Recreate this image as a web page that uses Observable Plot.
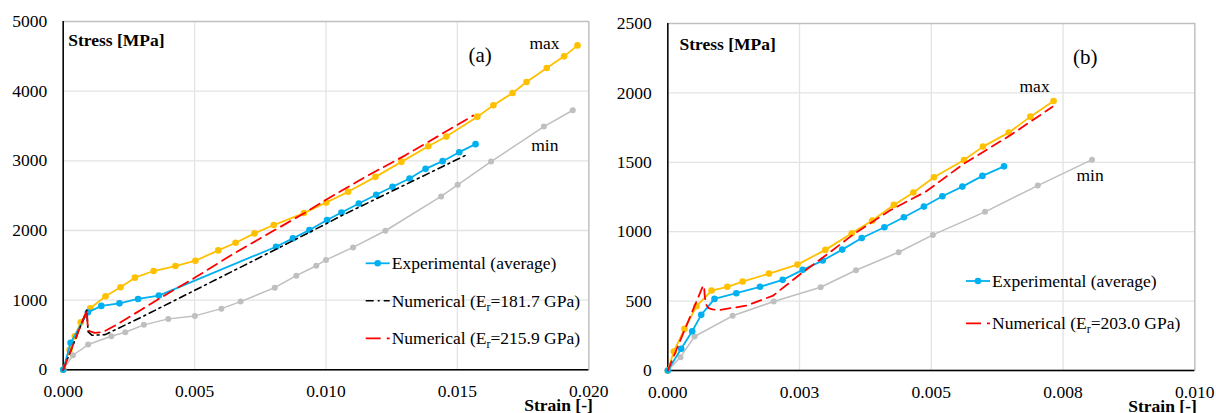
<!DOCTYPE html>
<html>
<head>
<meta charset="utf-8">
<script src="https://cdn.jsdelivr.net/npm/d3@7"></script>
<script src="https://cdn.jsdelivr.net/npm/@observablehq/plot@0.6"></script>
<style>
  body { margin: 0; background: #fff; }
  #wrap { position: relative; width: 1216px; height: 413px; display: flex; }
  #wrap, #wrap svg, #wrap svg text, #wrap svg tspan { font-family: "Liberation Serif", "Tinos", "DejaVu Serif", "Noto Serif", serif !important; }
  .panel { position: relative; width: 608px; height: 413px; }
  .panel svg.overlay { position: absolute; left: 0; top: 0; pointer-events: none; }
</style>
</head>
<body>
<div id="wrap"><div class="panel" id="pa"></div><div class="panel" id="pb"></div></div>
<script>
// ---------- Data: [strain, stress MPa] ----------
// Panel (a)
const maxA = [[0,0],[0.00024,287],[0.00044,482],[0.00067,682],[0.00103,883],[0.00161,1055],[0.00218,1184],[0.00273,1323],[0.00344,1418],[0.00427,1490],[0.00503,1566],[0.0059,1714],[0.00656,1824],[0.00728,1958],[0.00801,2078],[0.00916,2250],[0.01001,2402],[0.01084,2555],[0.01188,2770],[0.01287,2985],[0.01389,3210],[0.01458,3348],[0.01576,3634],[0.01637,3797],[0.0171,3974],[0.01763,4131],[0.0184,4332],[0.01906,4500],[0.01957,4657]];
const expA = [[0,0],[0.00028,387],[0.00094,825],[0.00145,917],[0.00214,954],[0.00285,1017],[0.00364,1065],[0.0081,1767],[0.00874,1886],[0.00937,2006],[0.01004,2150],[0.01059,2258],[0.01125,2387],[0.01191,2512],[0.01253,2627],[0.01318,2746],[0.01379,2885],[0.01444,2995],[0.01507,3124],[0.01569,3239]];
const minA = [[0,0],[0.00037,209],[0.00095,363],[0.00183,482],[0.00236,539],[0.00307,645],[0.004,731],[0.00501,774],[0.00602,878],[0.00675,979],[0.00805,1179],[0.00887,1351],[0.00963,1494],[0.01,1578],[0.01103,1757],[0.01226,1996],[0.01438,2488],[0.01501,2655],[0.01628,2989],[0.01829,3491],[0.01939,3726]];
const num1817A = [[0,0],[0.0009,855],[0.00093,650],[0.00095,545],[0.0011,495],[0.0016,505],[0.003,760],[0.005,1140],[0.0081,1730],[0.01,2095],[0.01055,2205],[0.0154,3095]];
const num2159A = [[0,0],[0.0009,855],[0.00092,700],[0.00094,600],[0.001,555],[0.0012,530],[0.0015,540],[0.002,640],[0.003,870],[0.004,1100],[0.005,1320],[0.0065,1670],[0.008,1995],[0.0092,2255],[0.01,2440],[0.0115,2770],[0.013,3075],[0.0156,3650]];
// Panel (b)
const maxB = [[0,0],[0.000114,137],[0.000317,300],[0.000545,463],[0.00083,576],[0.00113,603],[0.00142,641],[0.00192,698],[0.00246,763],[0.00299,869],[0.00349,989],[0.00388,1080],[0.00429,1193],[0.00466,1282],[0.00505,1392],[0.00562,1517],[0.00598,1613],[0.00647,1714],[0.00688,1829],[0.00732,1942]];
const expB = [[0,0],[0.000254,156],[0.000463,283],[0.000634,401],[0.000886,516],[0.0013,557],[0.00175,603],[0.00218,653],[0.00256,725],[0.00294,792],[0.00331,871],[0.00368,955],[0.00411,1032],[0.00448,1104],[0.00486,1181],[0.00521,1255],[0.00559,1325],[0.00597,1402],[0.00638,1471]];
const minB = [[0,0],[0.00024,96],[0.000507,245],[0.00123,394],[0.00201,497],[0.0029,600],[0.00357,722],[0.00438,852],[0.00503,977],[0.00602,1143],[0.00702,1332],[0.00805,1519]];
const num2030B = [[0,0],[0.00067,612],[0.00069,600],[0.0007,540],[0.00072,480],[0.00077,450],[0.00085,440],[0.001,437],[0.0015,468],[0.002,540],[0.0025,690],[0.003,830],[0.0035,975],[0.0042,1150],[0.0049,1290],[0.0056,1485],[0.0065,1695],[0.0073,1900]];

// ---------- Ticks ----------
const xTicksA = [0, 0.005, 0.01, 0.015, 0.02];
const xLabelsA = ["0.000", "0.005", "0.010", "0.015", "0.020"];
const yTicksA = [0, 1000, 2000, 3000, 4000, 5000];
const xTicksB = [0, 0.0025, 0.005, 0.0075, 0.01];
const xLabelsB = ["0.000", "0.003", "0.005", "0.008", "0.010"];
const yTicksB = [0, 500, 1000, 1500, 2000, 2500];

// ---------- Text ----------
const yTitle = "Stress [MPa]";
const xTitle = "Strain [-]";
const legendA = [
  {name: "Experimental (average)", sub: null, kind: "exp"},
  {name: "Numerical (E", sub: "r", rest: "=181.7 GPa)", kind: "dashdot"},
  {name: "Numerical (E", sub: "r", rest: "=215.9 GPa)", kind: "dash"}
];
const legendB = [
  {name: "Experimental (average)", sub: null, kind: "exp"},
  {name: "Numerical (E", sub: "r", rest: "=203.0 GPa)", kind: "dash"}
];

const FONT = '"Liberation Serif", "Tinos", "DejaVu Serif", "Noto Serif", serif';
const C = {max: "#FFC000", exp: "#00B0F0", min: "#BFBFBF", red: "#FF0000", black: "#000000", grid: "#E3E3E3", frame: "#BFBFBF"};
const FS = 17.5;
const X = d => d[0], Y = d => d[1];

function series(data, color, r, sw) {
  return [
    Plot.line(data, {x: X, y: Y, stroke: color, strokeWidth: sw}),
    Plot.dot(data, {x: X, y: Y, fill: color, r: r})
  ];
}

function panel(opts) {
  return Plot.plot({
    width: 608, height: 413,
    marginTop: opts.mt, marginBottom: opts.mb, marginLeft: opts.ml, marginRight: opts.mr,
    style: {fontFamily: FONT, fontSize: FS + "px", color: "#000", background: "transparent", overflow: "visible"},
    x: {domain: [opts.xTicks[0], opts.xTicks[opts.xTicks.length - 1]]},
    y: {domain: [opts.yTicks[0], opts.yTicks[opts.yTicks.length - 1]]},
    marks: [
      Plot.gridX(opts.xTicks, {stroke: C.grid, strokeOpacity: 1, strokeWidth: 1.3}),
      Plot.gridY(opts.yTicks, {stroke: C.grid, strokeOpacity: 1, strokeWidth: 1.3}),
      Plot.frame({stroke: C.frame, strokeWidth: 1.3}),
      Plot.ruleX([opts.xTicks[0]], {stroke: "#000", strokeWidth: 1.5}),
      Plot.ruleY([opts.yTicks[0]], {stroke: "#000", strokeWidth: 1.5}),
      Plot.axisX(opts.xTicks, {tickSize: 0, tickPadding: 15, tickFormat: (d, i) => opts.xLabels[i], label: null, fontSize: FS, fontFamily: FONT}),
      Plot.axisY(opts.yTicks, {tickSize: 0, tickPadding: 16, tickFormat: d => String(d), label: null, fontSize: FS, fontFamily: FONT}),
      ...opts.marks,
      Plot.text([yTitle], {frameAnchor: "top-left", textAnchor: "start", lineAnchor: "top", dx: opts.yt[0], dy: opts.yt[1], fontWeight: "bold", fontSize: FS, fontFamily: FONT}),
      Plot.text([xTitle], {frameAnchor: "bottom-right", textAnchor: "end", lineAnchor: "middle", dx: opts.xt[0], dy: opts.xt[1], fontWeight: "bold", fontSize: FS, fontFamily: FONT}),
      Plot.text([opts.tag], {frameAnchor: "top-left", textAnchor: "middle", lineAnchor: "top", dx: opts.tagPos[0], dy: opts.tagPos[1], fontSize: 21, fontFamily: FONT})
    ]
  });
}

const plotA = panel({
  mt: 21, mb: 43.7, ml: 62.7, mr: 19.7,
  xTicks: xTicksA, xLabels: xLabelsA, yTicks: yTicksA,
  yt: [5, 11.6], xt: [4, 36], tag: "(a)", tagPos: [417, 25.8],
  marks: [
    ...series(minA, C.min, 3, 1.5),
    ...series(maxA, C.max, 3.3, 1.8),
    ...series(expA, C.exp, 3.3, 1.8),
    Plot.line(num1817A, {x: X, y: Y, stroke: C.black, strokeWidth: 1.6, strokeDasharray: "7,4,2,4"}),
    Plot.line(num2159A, {x: X, y: Y, stroke: C.red, strokeWidth: 1.8, strokeDasharray: "11,6"}),
    Plot.text(maxA, Plot.selectLast({x: X, y: Y, text: () => "max", dx: -33, dy: -2, fontSize: FS, fontFamily: FONT})),
    Plot.text(minA, Plot.selectLast({x: X, y: Y, text: () => "min", dx: -28, dy: 35, fontSize: FS, fontFamily: FONT}))
  ]
});

const plotB = panel({
  mt: 23, mb: 43, ml: 59.3, mr: 21.7,
  xTicks: xTicksB, xLabels: xLabelsB, yTicks: yTicksB,
  yt: [11.7, 13.6], xt: [2, 35.5], tag: "(b)", tagPos: [417.4, 26],
  marks: [
    ...series(minB, C.min, 3, 1.5),
    ...series(maxB, C.max, 3.3, 1.8),
    ...series(expB, C.exp, 3.3, 1.8),
    Plot.line(num2030B, {x: X, y: Y, stroke: C.red, strokeWidth: 1.8, strokeDasharray: "10,6"}),
    Plot.text(maxB, Plot.selectLast({x: X, y: Y, text: () => "max", dx: -19, dy: -15, fontSize: FS, fontFamily: FONT})),
    Plot.text(minB, Plot.selectLast({x: X, y: Y, text: () => "min", dx: -2, dy: 15.4, fontSize: FS, fontFamily: FONT}))
  ]
});

document.getElementById("pa").appendChild(plotA);
document.getElementById("pb").appendChild(plotB);

function legend(container, items, x0, y0, step) {
  const svg = d3.select(container).append("svg").attr("class", "overlay")
    .attr("width", 608).attr("height", 413)
    .attr("font-family", FONT).attr("font-size", FS);
  items.forEach((it, i) => {
    const y = y0 + i * step;
    const g = svg.append("g").attr("transform", `translate(${x0},${y})`);
    if (it.kind === "exp") {
      g.append("line").attr("x1", 0).attr("x2", 24).attr("stroke", C.exp).attr("stroke-width", 1.8);
      g.append("circle").attr("cx", 12).attr("r", 3.3).attr("fill", C.exp);
    } else if (it.kind === "dash") {
      g.append("line").attr("x1", 0).attr("x2", 24).attr("stroke", C.red).attr("stroke-width", 1.8).attr("stroke-dasharray", "15,6");
    } else {
      g.append("line").attr("x1", 0).attr("x2", 24).attr("stroke", C.black).attr("stroke-width", 1.6).attr("stroke-dasharray", "8,4,2,4");
    }
    const t = g.append("text").attr("x", 26).attr("y", 6);
    t.append("tspan").text(it.name);
    if (it.sub) {
      t.append("tspan").attr("font-size", 12).attr("dy", 4).text(it.sub);
      t.append("tspan").attr("dy", -4).text(it.rest);
    }
  });
}
legend(document.getElementById("pa"), legendA, 365.7, 263.3, 37.5);
legend(document.getElementById("pb"), legendB, 966 - 608, 281, 42.3);
</script>
</body>
</html>
